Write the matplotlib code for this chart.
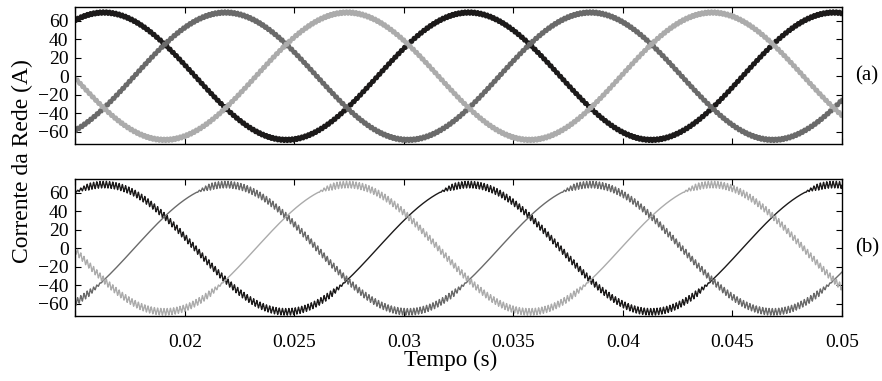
import numpy as np
import matplotlib
matplotlib.use("Agg")
import matplotlib.pyplot as plt

# Valores (corrente trifásica da rede, 60 Hz)
amplitude = 69.0                     # A, pico da fundamental
grid_freq = 60.0                     # Hz
phase_offset_deg = 8.0
phase_shifts_deg = [0.0, -120.0, 120.0]   # fases a, b, c
phase_colors = ["#1c1a1a", "#6a6a6a", "#ababab"]

ripple_freq = 6840.0                 # Hz, frequência aparente do ripple
ripple_a = 1.5                       # A, ripple em (a), quase constante
ripple_b = 3.6                       # A, ripple em (b) fora da janela "limpa"
quiet_window_deg = (-120.0, -30.0)   # faixa de fase onde (b) quase não tem ripple
ramp_deg = 15.0

t_start, t_end = 0.015, 0.05
x_ticks = [0.015, 0.02, 0.025, 0.03, 0.035, 0.04, 0.045, 0.05]
x_ticklabels = ["", "0.02", "0.025", "0.03", "0.035", "0.04", "0.045", "0.05"]
y_ticks = [-60, -40, -20, 0, 20, 40, 60]
panel_labels = ["(a)", "(b)"]

t = np.linspace(t_start, t_end, 120000)
tri = 2 / np.pi * np.arcsin(np.sin(2 * np.pi * ripple_freq * t))


def phase_current(shift_deg, ripple, windowed):
    psi = np.degrees(2 * np.pi * grid_freq * t) + shift_deg + phase_offset_deg
    base = amplitude * np.cos(np.radians(psi))
    if windowed:
        center = sum(quiet_window_deg) / 2
        half = (quiet_window_deg[1] - quiet_window_deg[0]) / 2
        d = np.abs((psi - center + 180) % 360 - 180) - half
        env = np.clip(d / ramp_deg, 0, 1)
    else:
        env = 1.0
    return base + ripple * env * tri


plt.rcParams["font.family"] = "Liberation Serif"

fig = plt.figure(figsize=(8.82, 3.81), dpi=100)
ax_a = fig.add_axes([0.0856, 0.622, 0.869, 0.3596])
ax_b = fig.add_axes([0.0856, 0.1706, 0.869, 0.3594])

for ax, ripple, windowed, label in [(ax_a, ripple_a, False, panel_labels[0]),
                                    (ax_b, ripple_b, True, panel_labels[1])]:
    for shift, color in zip(phase_shifts_deg, phase_colors):
        lw = 2.8 if not windowed else 1.0
        ax.plot(t, phase_current(shift, ripple, windowed), color=color, lw=lw)
    ax.set_xlim(t_start, t_end)
    ax.set_ylim(-73.5, 75)
    ax.set_yticks(y_ticks)
    ax.set_xticks(x_ticks)
    ax.tick_params(direction="in", top=True, right=True, length=4,
                   labelsize=14, pad=5)
    for sp in ax.spines.values():
        sp.set_linewidth(1.0)
    ax.text(1.017, 0.5, label, transform=ax.transAxes, fontsize=15,
            va="center", ha="left")

ax_a.set_xticklabels([])
ax_b.set_xticklabels(x_ticklabels)
ax_b.tick_params(axis="x", pad=13)
ax_b.set_xlabel("Tempo (s)", fontsize=16.5, labelpad=-1, x=0.49)
fig.text(0.026, 0.576, "Corrente da Rede (A)", rotation=90, fontsize=17,
         va="center", ha="center")

fig.savefig("out.png", dpi=100)
